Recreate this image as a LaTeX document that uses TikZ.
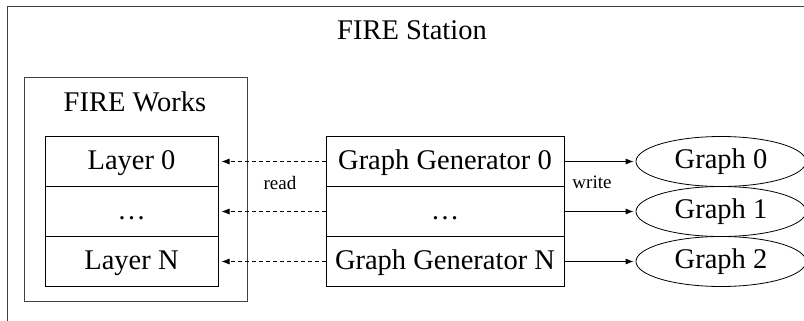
\documentclass[tikz,border=0pt]{standalone}
\usepackage{fontspec}
\setmainfont{Liberation Serif}
\usetikzlibrary{shapes.geometric,arrows.meta,positioning}

\begin{document}
\begin{tikzpicture}[
    x=1pt, y=-1pt,
    font=\fontsize{28.5}{34}\selectfont,
    frame/.style={draw=black!75, line width=1pt},
    row/.style={draw, line width=1pt, minimum height=50pt, inner sep=0pt, text height=20pt, text depth=5pt, anchor=center},
    layerrow/.style={row, minimum width=173pt},
    genrow/.style={row, minimum width=238pt},
    graphnode/.style={draw, ellipse, line width=0.8pt, minimum width=170pt, minimum height=50pt, inner sep=0pt},
    lbl/.style={font=\fontsize{19}{22}\selectfont},
    readarr/.style={-{Latex[length=8pt,width=6pt]}, dash pattern=on 4pt off 3pt, line width=0.7pt, shorten >=3pt},
    writearr/.style={-{Latex[length=8pt,width=6pt]}, line width=0.8pt, shorten >=2pt}
]
    \useasboundingbox (0,0) rectangle (804,321);
    \clip (0,0) rectangle (804,321);

    % Cadre FIRE Station (coupe a droite et en bas)
    \draw[frame] (7,7) rectangle (830,340);
    \node (station) at (412,30) {FIRE Station};

    % Cadre FIRE Works
    \draw[frame] (24,78) rectangle (247,301);
    \node (works) at (135,102) {FIRE Works};

    % Couches
    \node[layerrow] (layer0) at (131.5,161.5) {Layer 0};
    \node[layerrow] (layerdots) at (131.5,211.5) {\ldots};
    \node[layerrow] (layerN) at (131.5,261.5) {Layer N};

    % Generateurs
    \node[genrow] (gen0) at (445,161.5) {Graph Generator 0};
    \node[genrow] (gendots) at (445,211.5) {\ldots};
    \node[genrow] (genN) at (445,261.5) {Graph Generator N};

    % Graphes
    \node[graphnode] (graph0) at (721,161.5) {Graph 0};
    \node[graphnode] (graph1) at (721,211.5) {Graph 1};
    \node[graphnode] (graph2) at (721,261.5) {Graph 2};

    % Lecture
    \draw[readarr] (gen0.west) -- (layer0.east);
    \draw[readarr] (gendots.west) -- (layerdots.east);
    \draw[readarr] (genN.west) -- (layerN.east);
    \node[lbl] (readlbl) at (280,183) {read};

    % Ecriture
    \draw[writearr] (gen0.east) -- (graph0.west);
    \draw[writearr] (gendots.east) -- (graph1.west);
    \draw[writearr] (genN.east) -- (graph2.west);
    \node[lbl] (writelbl) at (592,182) {write};

\end{tikzpicture}
\end{document}
